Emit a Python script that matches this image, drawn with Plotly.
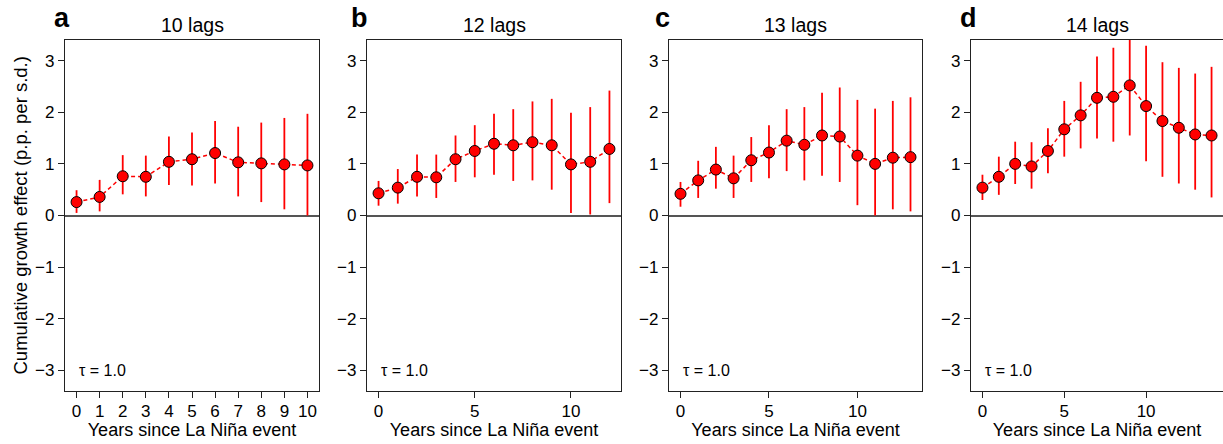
import plotly.graph_objects as go
import numpy as np

W, H = 1223, 444

# ---------- data ----------
panel_letters = ["a", "b", "c", "d"]
panel_titles = ["10 lags", "12 lags", "13 lags", "14 lags"]

mean_a = [0.26, 0.36, 0.76, 0.75, 1.04, 1.09, 1.21, 1.03, 1.01, 0.99, 0.97]
lo_a   = [0.05, 0.08, 0.41, 0.37, 0.59, 0.58, 0.62, 0.37, 0.26, 0.12, 0.00]
hi_a   = [0.49, 0.69, 1.17, 1.16, 1.53, 1.61, 1.83, 1.72, 1.80, 1.89, 1.97]

mean_b = [0.43, 0.54, 0.75, 0.74, 1.09, 1.25, 1.39, 1.36, 1.42, 1.36, 0.99, 1.04, 1.29]
lo_b   = [0.19, 0.23, 0.37, 0.34, 0.65, 0.74, 0.79, 0.67, 0.68, 0.50, 0.05, 0.02, 0.24]
hi_b   = [0.67, 0.90, 1.18, 1.18, 1.55, 1.75, 1.97, 2.06, 2.21, 2.26, 1.99, 2.10, 2.42]

mean_c = [0.42, 0.68, 0.89, 0.72, 1.07, 1.22, 1.45, 1.37, 1.55, 1.53, 1.16, 1.00, 1.12, 1.13]
lo_c   = [0.17, 0.34, 0.52, 0.34, 0.65, 0.72, 0.86, 0.68, 0.77, 0.65, 0.20, 0.00, 0.12, 0.08]
hi_c   = [0.65, 1.06, 1.33, 1.16, 1.52, 1.75, 2.06, 2.10, 2.38, 2.48, 2.24, 2.07, 2.22, 2.29]

mean_d = [0.54, 0.75, 1.00, 0.95, 1.25, 1.67, 1.94, 2.28, 2.30, 2.52, 2.12, 1.83, 1.70, 1.57, 1.55]
lo_d   = [0.30, 0.40, 0.61, 0.52, 0.82, 1.14, 1.30, 1.49, 1.43, 1.55, 1.05, 0.75, 0.62, 0.50, 0.35]
hi_d   = [0.79, 1.14, 1.43, 1.42, 1.69, 2.22, 2.59, 3.08, 3.25, 3.50, 3.29, 2.97, 2.86, 2.75, 2.88]

y_ticks = [-3, -2, -1, 0, 1, 2, 3]
tau_label = "τ = 1.0"
x_title = "Years since La Niña event"
y_title = "Cumulative growth effect (p.p. per s.d.)"

panels = [(mean_a, lo_a, hi_a), (mean_b, lo_b, hi_b), (mean_c, lo_c, hi_c), (mean_d, lo_d, hi_d)]

# ---------- layout geometry (pixels) ----------
left_px = [65, 367, 669, 971]
right_px = [319, 621, 922, 1223]
top_px, bot_px = 40, 391
letter_x = [52, 349, 653, 958]

FONT = "Liberation Sans, Arial, Helvetica, sans-serif"
RED = "#ff0000"
AXC = "#222222"

fig = go.Figure()
layout = dict(
    width=W, height=H,
    margin=dict(l=0, r=0, t=0, b=0),
    paper_bgcolor="white", plot_bgcolor="white",
    showlegend=False,
    font=dict(family=FONT, color="black", size=17),
    annotations=[],
)

for i, (m, lo, hi) in enumerate(panels):
    n = len(m)
    years = list(range(n))
    m_arr = np.array(m); lo_arr = np.array(lo); hi_arr = np.array(hi)
    sfx = "" if i == 0 else str(i + 1)
    xa, ya = "x" + sfx, "y" + sfx
    fig.add_trace(go.Scatter(
        x=years, y=m, xaxis=xa, yaxis=ya,
        mode="lines+markers",
        line=dict(color=RED, width=1.5, dash="4px,3px"),
        marker=dict(color=RED, size=11, line=dict(color="black", width=1)),
        error_y=dict(type="data", symmetric=False,
                     array=list(hi_arr - m_arr), arrayminus=list(m_arr - lo_arr),
                     color=RED, thickness=1.8, width=0),
        cliponaxis=True,
    ))
    last = n - 1
    pad = 0.05 * last
    xdom = [left_px[i] / W, min(right_px[i] / W, 1.0)]
    ydom = [1 - bot_px / H, 1 - top_px / H]
    layout["xaxis" + sfx] = dict(
        domain=xdom, anchor=ya, range=[-pad, last + pad],
        tickmode="linear", tick0=0, dtick=1 if i == 0 else 5,
        ticks="outside", ticklen=6, tickwidth=1, tickcolor=AXC,
        showline=True, linecolor=AXC, linewidth=1.2, mirror=True,
        showgrid=False, zeroline=False,
        ticklabelstandoff=-2,
        tickfont=dict(size=17, family=FONT, color="black"),
        title=dict(text=x_title, font=dict(size=18, family=FONT, color="black"), standoff=0),
    )
    layout["yaxis" + sfx] = dict(
        domain=ydom, anchor=xa, range=[-3.4, 3.4],
        tickmode="array", tickvals=y_ticks,
        ticks="outside", ticklen=6, tickwidth=1, tickcolor=AXC,
        showline=True, linecolor=AXC, linewidth=1.2, mirror=True,
        showgrid=False, zeroline=True, zerolinecolor="#555555", zerolinewidth=1.6,
        tickfont=dict(size=17, family=FONT, color="black"),
    )
    cx = (left_px[i] + right_px[i]) / 2 / W
    layout["annotations"].append(dict(
        text=panel_titles[i], xref="paper", yref="paper", x=cx, y=1 - 25 / H,
        xanchor="center", yanchor="middle", showarrow=False,
        font=dict(size=19.5, family=FONT, color="black")))
    layout["annotations"].append(dict(
        text="<b>%s</b>" % panel_letters[i], xref="paper", yref="paper",
        x=letter_x[i] / W, y=1 - 18 / H, xanchor="left", yanchor="middle",
        showarrow=False, font=dict(size=27, family=FONT, color="black")))
    layout["annotations"].append(dict(
        text=tau_label, xref=xa + " domain", yref=ya, x=0, y=-3.0,
        xanchor="left", yanchor="middle", xshift=12, showarrow=False,
        font=dict(size=16, family=FONT, color="black")))

layout["annotations"].append(dict(
    text=y_title, xref="paper", yref="paper", x=20 / W, y=1 - 215.5 / H,
    xanchor="center", yanchor="middle", textangle=-90, showarrow=False,
    font=dict(size=18.5, family=FONT, color="black")))

fig.update_layout(**layout)
fig.write_html("out.html")
